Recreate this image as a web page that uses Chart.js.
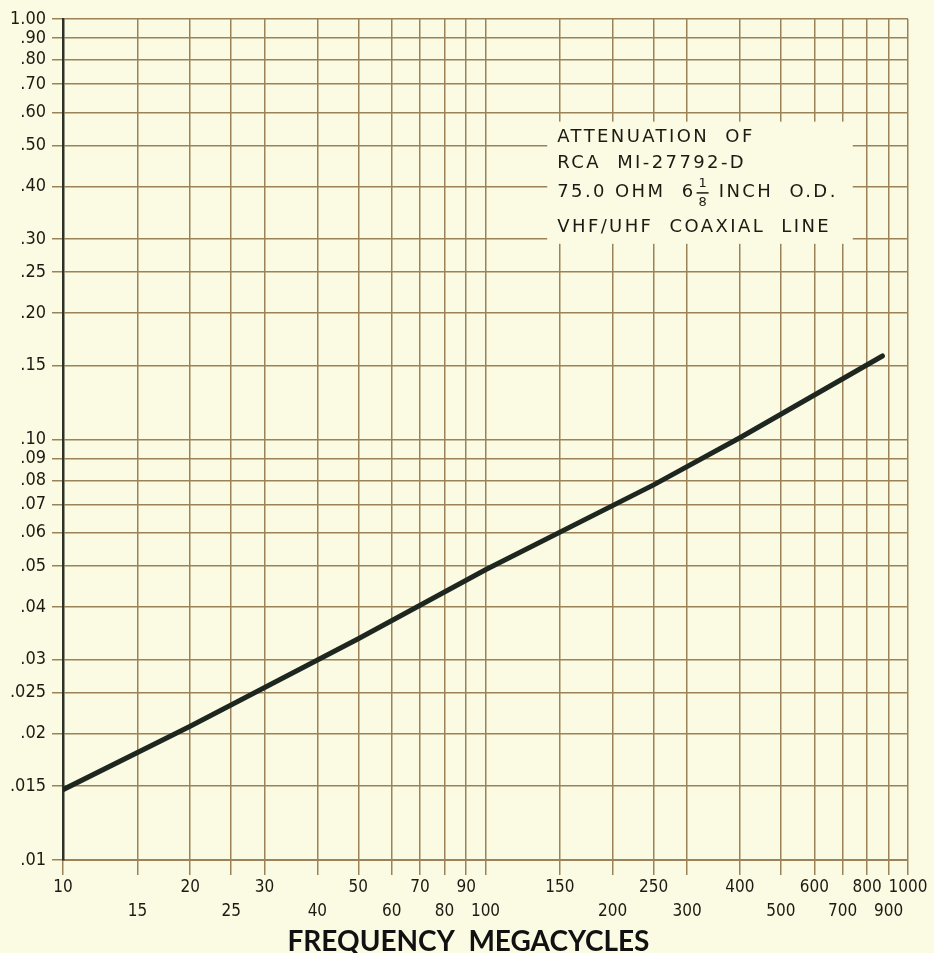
<!DOCTYPE html>
<html>
<head>
<meta charset="utf-8">
<script src="https://cdn.jsdelivr.net/npm/chart.js@4.4.1/dist/chart.umd.min.js"></script>
<style>
  html, body { margin: 0; padding: 0; background: #fbfbe3; }
  #wrap { width: 934px; height: 953px; }
</style>
</head>
<body>
<div id="wrap"><canvas id="attChart"></canvas></div>
<script>
// values (MHz -> dB per 100 ft)
const freqMHz = [10, 20, 50, 100, 250, 400, 870];
const attenuation = [0.0147, 0.0208, 0.0336, 0.049, 0.078, 0.101, 0.158];

// axis ticks
const xTicks = [10, 15, 20, 25, 30, 40, 50, 60, 70, 80, 90, 100, 150, 200, 250, 300, 400, 500, 600, 700, 800, 900, 1000];
const xSecondRow = [15, 25, 40, 60, 80, 100, 200, 300, 500, 700, 900];
const yTicks = [0.01, 0.015, 0.02, 0.025, 0.03, 0.04, 0.05, 0.06, 0.07, 0.08, 0.09, 0.1, 0.15, 0.2, 0.25, 0.3, 0.4, 0.5, 0.6, 0.7, 0.8, 0.9, 1];
const yLabels = [".01", ".015", ".02", ".025", ".03", ".04", ".05", ".06", ".07", ".08", ".09", ".10", ".15", ".20", ".25", ".30", ".40", ".50", ".60", ".70", ".80", ".90", "1.00"];

const PAPER = "#fbfbe3";
const GRID = "#9c8259";
const INK = "#1b1b14";
const LABEL_FONT = '"DejaVu Sans Condensed", "Liberation Sans Narrow", "DejaVu Sans", sans-serif';

// paper background
const paper = {
  id: "paper",
  beforeDraw(chart) {
    const c = chart.ctx;
    c.save();
    c.fillStyle = PAPER;
    c.fillRect(0, 0, chart.width, chart.height);
    c.restore();
  }
};

// caption block that blanks out the grid behind it
const caption = {
  id: "caption",
  beforeDatasetsDraw(chart) {
    const c = chart.ctx;
    const x = chart.scales.x, y = chart.scales.y;
    const x0 = x.getPixelForValue(140), x1 = x.getPixelForValue(740);
    const y0 = y.getPixelForValue(0.57), y1 = y.getPixelForValue(0.292);
    c.save();
    c.fillStyle = PAPER;
    c.fillRect(x0, y0, x1 - x0, y1 - y0);

    const left = x0 + 10;
    c.fillStyle = INK;
    c.font = '18px "DejaVu Sans", sans-serif';
    c.textBaseline = "middle";
    c.letterSpacing = "2.4px";
    c.fillText("ATTENUATION  OF", left, y0 + 16);
    c.fillText("RCA  MI-27792-D", left, y0 + 42);

    // line with the 6 1/8 fraction
    const ly = y0 + 71;
    let t = "75.0 OHM  6";
    c.fillText(t, left, ly);
    let px = left + c.measureText(t).width + 1;
    c.save();
    c.font = '13px "DejaVu Sans", sans-serif';
    c.letterSpacing = "0px";
    c.textAlign = "center";
    c.fillText("1", px + 6, ly - 9);
    c.fillText("8", px + 6, ly + 10);
    c.fillRect(px, ly - 0.5, 12, 1.5);
    c.restore();
    c.fillText(" INCH  O.D.", px + 14, ly);

    c.fillText("VHF/UHF  COAXIAL  LINE", left, y0 + 106);
    c.restore();
  }
};

new Chart(document.getElementById("attChart"), {
  type: "line",
  data: {
    datasets: [{
      data: freqMHz.map((f, i) => ({ x: f, y: attenuation[i] })),
      borderColor: "#1e271f",
      borderWidth: 5,
      borderCapStyle: "round",
      pointRadius: 0,
      tension: 0
    }]
  },
  options: {
    responsive: true,
    maintainAspectRatio: false,
    animation: false,
    layout: { padding: { top: 19, right: 26, bottom: 0, left: 0 } },
    plugins: {
      legend: { display: false },
      tooltip: { enabled: false }
    },
    scales: {
      x: {
        type: "logarithmic",
        min: 10,
        max: 1000,
        afterBuildTicks: s => { s.ticks = xTicks.map(v => ({ value: v })); },
        afterFit: s => { s.height = 93; },
        grid: { color: GRID, lineWidth: 1.5, tickLength: 15, tickColor: GRID },
        border: { color: GRID, width: 2 },
        ticks: {
          autoSkip: false,
          maxRotation: 0,
          padding: 0,
          color: INK,
          font: { family: LABEL_FONT, size: 17, lineHeight: 1.45 },
          callback: (v, i) => {
            const val = xTicks[i];
            return xSecondRow.includes(val) ? ["", String(val)] : String(val);
          }
        },
        title: {
          display: true,
          text: "FREQUENCY  MEGACYCLES     ",
          color: "#111",
          font: { family: "Lato, 'DejaVu Sans', sans-serif", size: 28, weight: "bold", lineHeight: 0.8 },
          padding: 0
        }
      },
      y: {
        type: "logarithmic",
        min: 0.01,
        max: 1,
        afterBuildTicks: s => { s.ticks = yTicks.map(v => ({ value: v })); },
        afterFit: s => { s.width = 63; },
        grid: { color: GRID, lineWidth: 1.5, tickLength: 11, tickColor: GRID },
        border: { color: "#2d3126", width: 2.5 },
        ticks: {
          autoSkip: false,
          padding: 6,
          color: INK,
          font: { family: LABEL_FONT, size: 18 },
          callback: (v, i) => yLabels[i]
        }
      }
    }
  },
  plugins: [paper, caption]
});
</script>
</body>
</html>
